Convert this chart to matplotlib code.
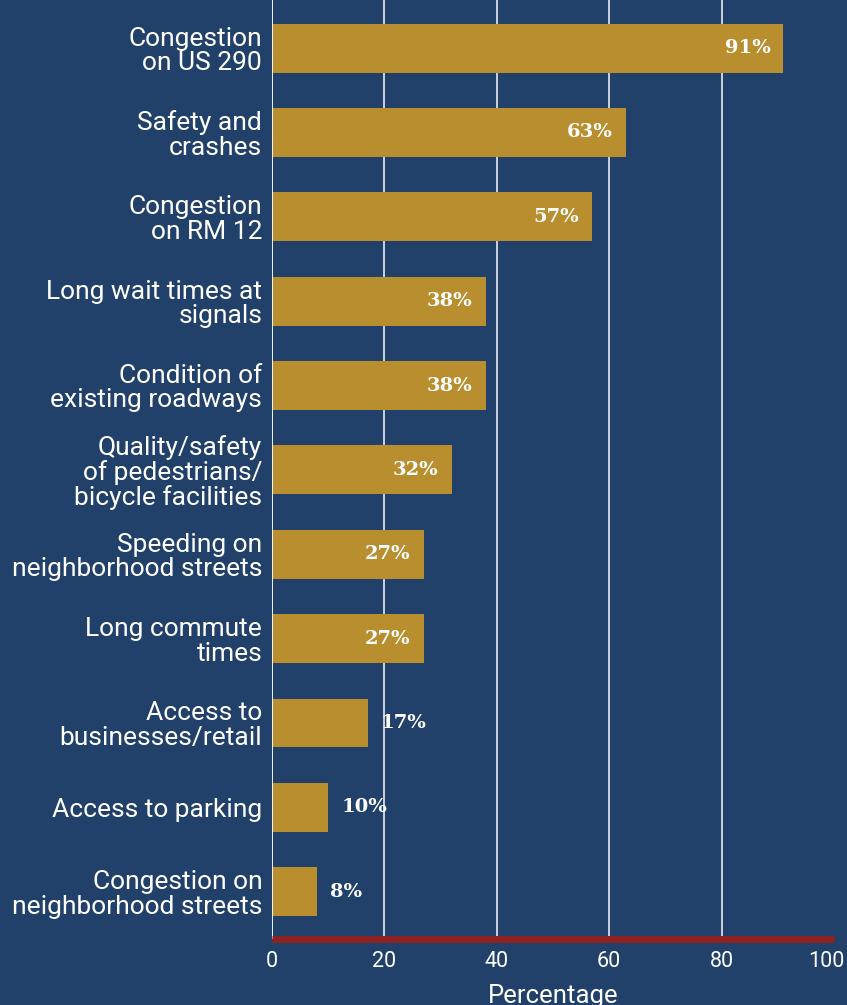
import matplotlib
matplotlib.use("Agg")
import matplotlib.pyplot as plt
import matplotlib.transforms as mtransforms

categories = [
    "Congestion\non US 290",
    "Safety and\ncrashes",
    "Congestion\non RM 12",
    "Long wait times at\nsignals",
    "Condition of\nexisting roadways",
    "Quality/safety\nof pedestrians/\nbicycle facilities",
    "Speeding on\nneighborhood streets",
    "Long commute\ntimes",
    "Access to\nbusinesses/retail",
    "Access to parking",
    "Congestion on\nneighborhood streets",
]
values = [91, 63, 57, 38, 38, 32, 27, 27, 17, 10, 8]
xticks = [0, 20, 40, 60, 80, 100]

BG = "#21416a"
BAR = "#b88e2f"
AXIS_RED = "#8e2220"

fig = plt.figure(figsize=(8.47, 10.05), dpi=100, facecolor=BG)
ax = fig.add_axes([0.3211, 0.0657, 0.6636, 0.9343], facecolor=BG)

ypos = list(range(len(categories)))
ax.barh(ypos, values, height=0.58, color=BAR, zorder=3)

ax.set_xlim(0, 100)
ax.set_ylim(10.56, -0.57)

for x in xticks[1:-1]:
    ax.axvline(x, color="#d8dde6", lw=1.3, zorder=1)
ax.axvline(0, color="white", lw=1.3, zorder=4)

for s in ["top", "right", "left"]:
    ax.spines[s].set_visible(False)
ax.spines["bottom"].set_color(AXIS_RED)
ax.spines["bottom"].set_linewidth(5)
ax.spines["bottom"].set_capstyle("butt")
ax.spines["bottom"].set_zorder(5)

ax.set_xticks(xticks)
ax.set_xticklabels([str(t) for t in xticks], fontfamily="Roboto",
                   fontsize=15.5, color="white")
ax.tick_params(axis="x", length=0, pad=9)
# keep the last tick label inside the canvas
last = ax.get_xticklabels()[-1]
last.set_transform(last.get_transform() +
                   mtransforms.ScaledTranslation(-8 / 100, 0, fig.dpi_scale_trans))

ax.set_yticks(ypos)
ax.set_yticklabels(categories, fontfamily="Roboto", fontsize=19,
                   color="white", linespacing=1.02)
ax.tick_params(axis="y", length=0, pad=7)
ax.set_xlabel("Percentage", fontfamily="Roboto", fontsize=18.5,
              color="white", labelpad=8.5)

for y, v in zip(ypos, values):
    inside = v >= 25
    ax.annotate(f"{v}%", xy=(v, y), xytext=(-13 if inside else 13, 0),
                textcoords="offset pixels",
                ha="right" if inside else "left", va="center",
                fontfamily="DejaVu Serif", fontweight="bold",
                fontsize=14, color="white", zorder=6)

fig.savefig("out.png", dpi=100, facecolor=BG)
